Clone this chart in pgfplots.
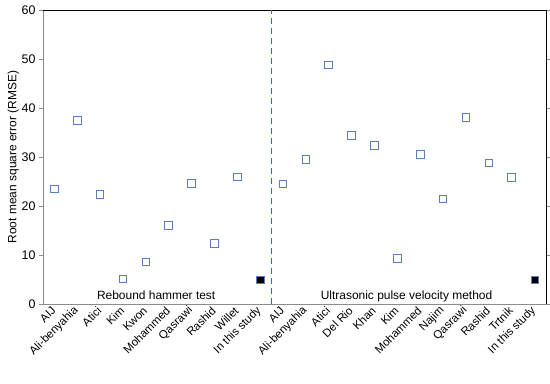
\documentclass[border=0pt]{standalone}
\usepackage{pgfplots}
\pgfplotsset{compat=1.18}
\usepackage{fontspec}
\setmainfont{Liberation Sans}
\definecolor{mk}{HTML}{5A80BA}
\definecolor{dl}{HTML}{2F6CC8}
\definecolor{ax}{HTML}{8C8C8C}
\begin{document}
\begin{tikzpicture}
\begin{axis}[
  scale only axis, width=503bp, height=294bp,
  xmin=-0.5, xmax=21.5, ymin=0, ymax=60,
  ytick={0,10,...,60},
  xtick={0,...,21},
  xticklabels={AIJ,Ali-benyahia,Atici,Kim,Kwon,Mohammed,Qasrawi,Rashid,Willet,In this study,AIJ,Ali-benyahia,Atici,Del Rio,Khan,Kim,Mohammed,Najim,Qasrawi,Rashid,Trtnik,In this study},
  xticklabel style={rotate=45, anchor=east, inner sep=1bp, font=\fontsize{11.5}{14}\selectfont},
  yticklabel style={font=\fontsize{12.5}{14}\selectfont},
  /pgf/number format/assume math mode=true,
  axis line style={draw=none},
  xtick style={draw=none},
  ytick style={ax, line width=0.8bp},
  tick align=outside, major tick length=4bp,
  ylabel={Root mean square error (RMSE)},
  ylabel style={font=\fontsize{12}{14}\selectfont, yshift=-4bp},
  clip=false,
]
\draw[ax, line width=0.8bp] (rel axis cs:0,1) -- (rel axis cs:0,0) -- (rel axis cs:1,0);
\draw[black, line width=0.8bp] (rel axis cs:0,1) -- (rel axis cs:1,1) -- (rel axis cs:1,0);
\addplot[draw=dl, no marks, dash pattern=on 6bp off 4bp, line width=1.3bp] coordinates {(9.5,0) (9.5,60)};
\addplot[only marks, mark=square, mark size=3.8bp, mark options={draw=mk, line width=1bp}] coordinates {
(0,23.5) (1,37.5) (2,22.4) (3,5.1) (4,8.6) (5,16.0) (6,24.6) (7,12.4) (8,25.9)
(10,24.5) (11,29.5) (12,48.8) (13,34.4) (14,32.4) (15,9.3) (16,30.5) (17,21.4) (18,38.0) (19,28.8) (20,25.8)
};
\addplot[only marks, mark=square*, mark size=3.6bp, mark options={draw=mk, fill=black, line width=0.6bp}] coordinates {
(9,5.0) (21,5.0)
};
\node[font=\fontsize{12}{14}\selectfont, anchor=base] at (axis cs:4.45,1.0) {Rebound hammer test};
\node[font=\fontsize{12}{14}\selectfont, anchor=base] at (axis cs:15.4,1.0) {Ultrasonic pulse velocity method};
\end{axis}
\pgfresetboundingbox
\path[use as bounding box] ([xshift=-43bp,yshift=-80bp]current axis.south west) rectangle ([xshift=4bp,yshift=10bp]current axis.north east);
\end{tikzpicture}
\end{document}
